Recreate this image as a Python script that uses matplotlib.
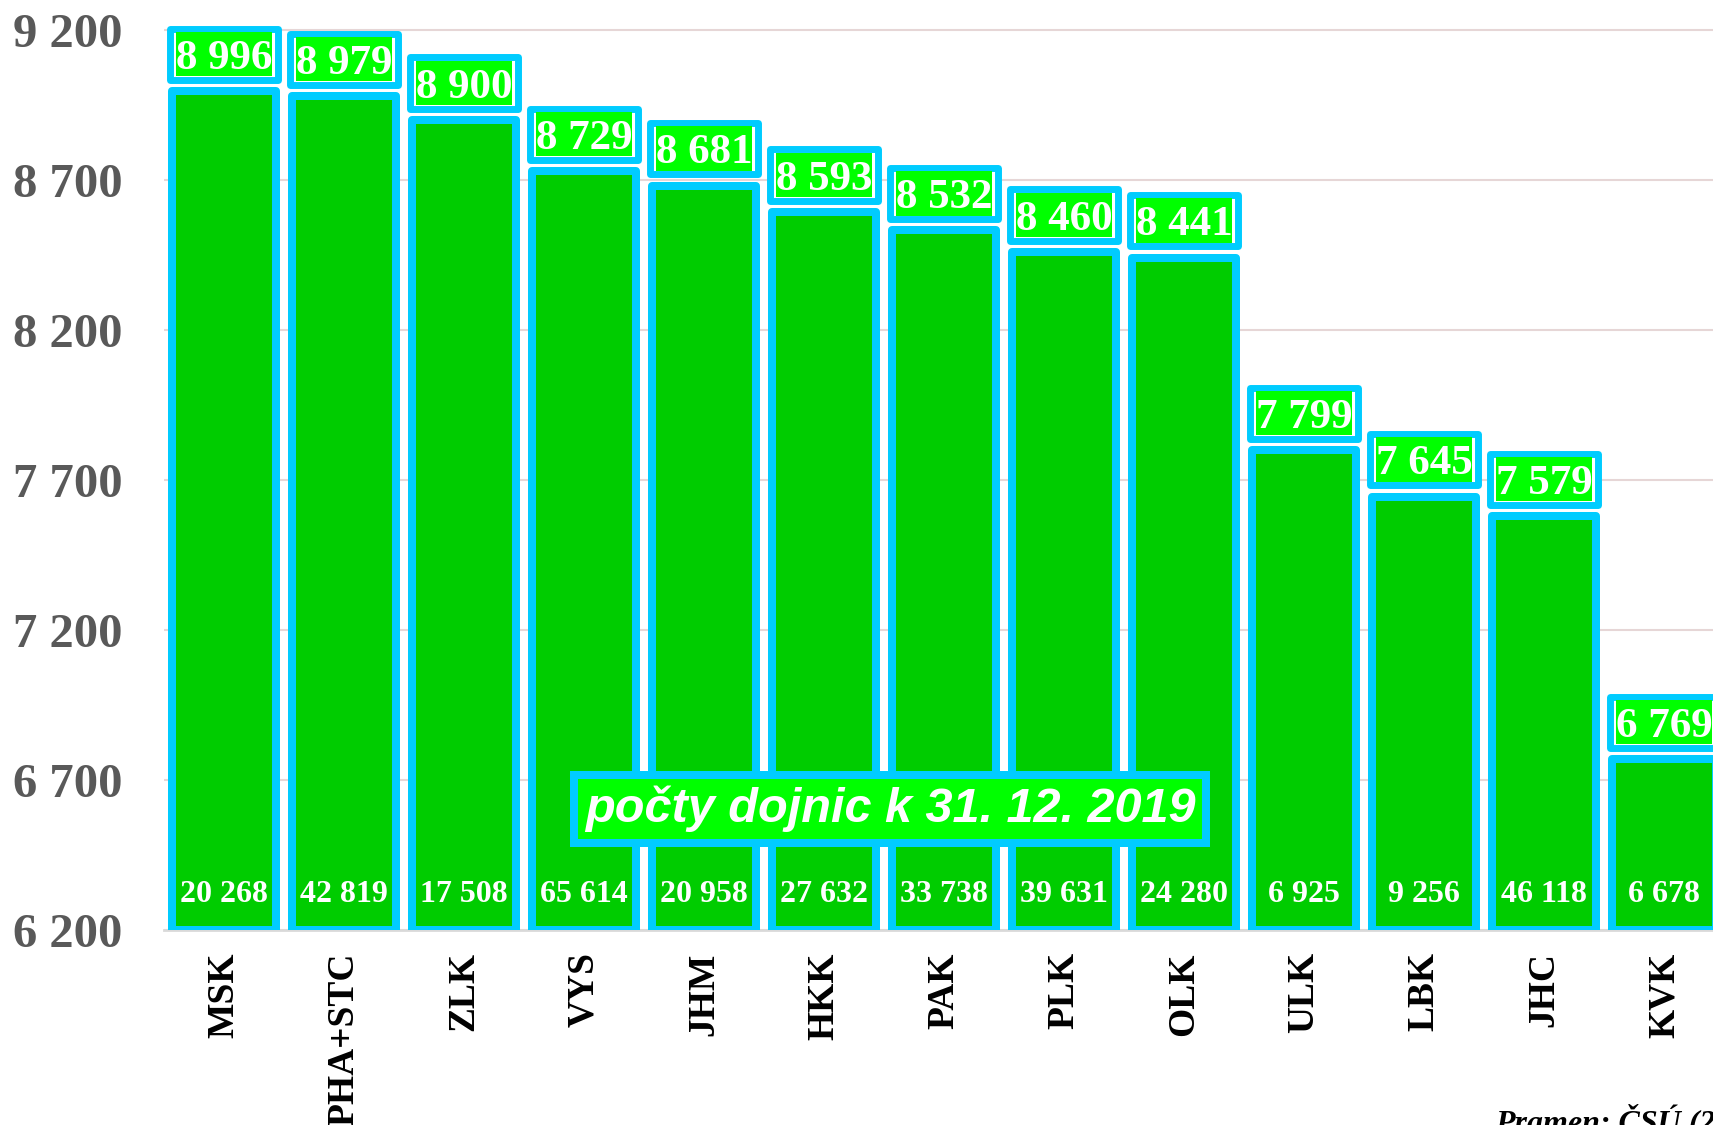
import matplotlib
matplotlib.use("Agg")
import matplotlib.pyplot as plt

kraje = ["MSK", "PHA+STC", "ZLK", "VYS", "JHM", "HKK", "PAK", "PLK",
         "OLK", "ULK", "LBK", "JHC", "KVK"]
dojivost = [8996, 8979, 8900, 8729, 8681, 8593, 8532, 8460, 8441, 7799, 7645, 7579, 6769]
dojnice = [20268, 42819, 17508, 65614, 20958, 27632, 33738, 39631, 24280, 6925, 9256, 46118, 6678]
y_ticks = [6200, 6700, 7200, 7700, 8200, 8700, 9200]
poznamka = "počty dojnic k 31. 12. 2019"
pramen = "Pramen: ČSÚ (2020)"

zelena = "#00CC00"
svetla = "#00FF00"
modra = "#00CCFF"


def fmt(n):
    return f"{n:,}".replace(",", " ")


fig = plt.figure(figsize=(17.13, 11.25), dpi=100)
ax = fig.add_axes([164 / 1713, 0.1733, 1 - 164 / 1713, 0.808])

x = list(range(len(kraje)))
bars = ax.bar(x, [v - 6200 for v in dojivost], bottom=6200, width=0.867,
              color=zelena, edgecolor=modra, linewidth=5.76, zorder=3)
for b in bars:
    b.set_joinstyle("round")

# rámečky s hodnotou nad sloupci
ram = ax.bar(x, [171] * len(x), bottom=[v + 38 for v in dojivost], width=0.9,
             color="white", edgecolor=modra, linewidth=5.0, zorder=3)
for b in ram:
    b.set_joinstyle("round")
ax.bar(x, [148] * len(x), bottom=[v + 49.5 for v in dojivost], width=0.8,
       color=svetla, linewidth=0, zorder=4)

for i, v in enumerate(dojivost):
    ax.annotate(fmt(v), (i, v + 123.5), xytext=(0, -10.5), textcoords="offset points",
                ha="center", va="baseline", color="white", fontsize=31,
                fontweight="bold", family="Liberation Serif", zorder=5)

for i, n in enumerate(dojnice):
    ax.text(i, 6293, fmt(n), ha="center", va="baseline", color="white",
            fontsize=23, fontweight="bold", family="Liberation Serif", zorder=5)

ax.text(5.55, 6603, poznamka, ha="center", va="center", color="white",
        fontsize=35, fontweight="bold", fontstyle="italic", family="Liberation Sans",
        zorder=6,
        bbox=dict(boxstyle="square,pad=0.22", facecolor=svetla, edgecolor=modra,
                  linewidth=5.76))

ax.set_ylim(6200, 9230)
ax.set_xlim(-0.5, (1713 - 224) / 120)
ax.set_yticks(y_ticks)
ax.set_yticklabels([fmt(t) for t in y_ticks], fontsize=35, fontweight="bold",
                   family="Liberation Serif", color="#595959")
ax.set_xticks(x)
ax.set_xticklabels(kraje, rotation=90, fontsize=27, fontweight="bold",
                   family="Liberation Serif", color="black")
ax.tick_params(axis="y", length=0, pad=30)
ax.tick_params(axis="x", length=0, pad=16)
ax.grid(axis="y", color="#E6D6D6", linewidth=1.5, zorder=0)
ax.set_axisbelow(True)
for s in ["top", "right", "left"]:
    ax.spines[s].set_visible(False)
ax.spines["bottom"].set_color("#D9D9D9")
ax.spines["bottom"].set_linewidth(2)
ax.spines["bottom"].set_zorder(2)

# zdroj je v originále useknutý u okraje
fig.text(1495 / 1713, -0.0053, pramen, ha="left", va="baseline", fontsize=23,
         fontweight="bold", fontstyle="italic", family="Liberation Serif")

fig.savefig("out.png", dpi=100)
